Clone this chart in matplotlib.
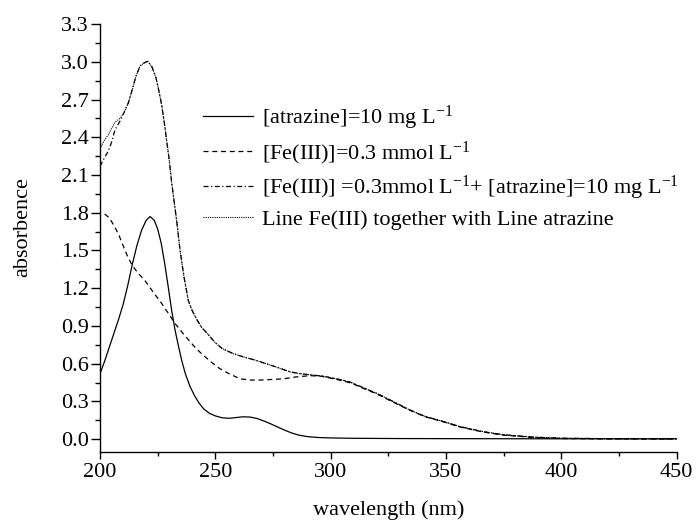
import numpy as np
import matplotlib
matplotlib.use("Agg")
import matplotlib.pyplot as plt
from matplotlib.ticker import MultipleLocator, FormatStrFormatter

plt.rcParams['font.family'] = ['Liberation Serif', 'DejaVu Serif']
plt.rcParams['mathtext.fontset'] = 'custom'
plt.rcParams['mathtext.rm'] = 'Liberation Serif'
plt.rcParams['mathtext.it'] = 'Liberation Serif:italic'

# [atrazine]=10 mg/L
atr_wl = [200, 202, 204, 206, 208, 210, 212, 214, 216, 218, 220, 221.7, 223.5, 225, 226.5,
          228, 229.5, 231, 232.5, 234, 235.5, 237, 239, 241, 243, 245, 247.5, 250, 253, 256,
          259, 262, 265, 268, 271, 274, 277, 280, 283, 286, 290, 295, 300, 310, 330, 360,
          400, 450]
atr_abs = [0.52, 0.62, 0.73, 0.84, 0.95, 1.07, 1.22, 1.39, 1.54, 1.66, 1.74, 1.77, 1.74,
           1.67, 1.56, 1.40, 1.22, 1.03, 0.87, 0.74, 0.62, 0.52, 0.42, 0.345, 0.285, 0.24,
           0.205, 0.185, 0.17, 0.166, 0.172, 0.178, 0.176, 0.165, 0.145, 0.122, 0.097, 0.072,
           0.05, 0.033, 0.02, 0.013, 0.01, 0.007, 0.005, 0.004, 0.003, 0.003]

# [Fe(III)]=0.3 mmol/L
fe_wl = [202, 204, 206, 208, 210, 212, 214, 216.5, 219.5, 223, 226.7, 230, 232.5, 236,
         241.2, 244, 248.4, 252, 256, 260.7, 265, 269.4, 275, 279.5, 285, 291, 296, 300,
         305, 309, 314, 320, 327, 334, 341, 349, 356, 366, 375, 388, 400, 420, 450]
fe_abs = [1.79, 1.76, 1.70, 1.63, 1.54, 1.45, 1.38, 1.32, 1.26, 1.17, 1.08, 0.99, 0.92, 0.84,
          0.73, 0.68, 0.61, 0.56, 0.52, 0.48, 0.47, 0.47, 0.475, 0.48, 0.495, 0.505, 0.5,
          0.485, 0.465, 0.445, 0.405, 0.36, 0.295, 0.232, 0.178, 0.137, 0.097, 0.057, 0.032,
          0.013, 0.005, 0.002, 0.001]

# mixture
mix_wl = [200, 202, 203.6, 205, 206.5, 208.7, 210.5, 212.3, 214, 215.5, 217.3, 219, 220.7,
          222.5, 224.3, 225.5, 226.7, 228, 228.9, 230, 231, 232.2, 233.2, 234.7, 236.5, 238.3,
          240, 242, 244, 247, 249.8, 253, 257.8, 262, 267, 272, 277, 282.4, 287, 292, 297,
          301, 305, 309, 314, 320, 327, 334, 341, 349, 356, 366, 375, 388, 400, 420, 450]
mix_abs = [2.17, 2.24, 2.29, 2.36, 2.46, 2.53, 2.60, 2.675, 2.78, 2.88, 2.966, 2.99, 3.005,
           2.96, 2.87, 2.77, 2.66, 2.50, 2.37, 2.22, 2.05, 1.88, 1.74, 1.50, 1.28, 1.10,
           1.02, 0.95, 0.89, 0.83, 0.77, 0.72, 0.68, 0.655, 0.63, 0.60, 0.57, 0.535, 0.52,
           0.51, 0.50, 0.485, 0.47, 0.45, 0.41, 0.364, 0.30, 0.235, 0.18, 0.14, 0.10, 0.06,
           0.035, 0.016, 0.008, 0.004, 0.003]

# Fe(III) line + atrazine line
sum_wl = [200, 202, 203.6, 205, 206.5, 208.7, 210.5, 212.3, 214, 215.5, 217.3, 219, 220.7,
          222.5, 224.3, 225.5, 226.7, 228, 228.9, 230, 231, 232.2, 233.2, 234.7, 236.5, 238.3,
          240, 242, 244, 247, 249.8, 253, 257.8, 262, 267, 272, 277, 282.4, 287, 292, 297,
          301, 305, 309, 314, 320, 327, 334, 341, 349, 356, 366, 375, 388, 400, 420, 450]
sum_abs = [2.31, 2.38, 2.42, 2.47, 2.52, 2.55, 2.60, 2.675, 2.78, 2.88, 2.966, 2.99, 3.005,
           2.96, 2.87, 2.77, 2.66, 2.50, 2.37, 2.22, 2.05, 1.88, 1.74, 1.50, 1.28, 1.10,
           1.02, 0.95, 0.89, 0.83, 0.77, 0.72, 0.68, 0.655, 0.63, 0.60, 0.57, 0.535, 0.52,
           0.51, 0.50, 0.485, 0.47, 0.45, 0.41, 0.364, 0.30, 0.235, 0.18, 0.14, 0.10, 0.06,
           0.035, 0.016, 0.008, 0.004, 0.003]

labels = ["[atrazine]=10 mg L$^{-1}$",
          "[Fe(III)]=0.3 mmol L$^{-1}$",
          "[Fe(III)] =0.3mmol L$^{-1}$+ [atrazine]=10 mg L$^{-1}$",
          "Line Fe(III) together with Line atrazine"]


def main():
  fig = plt.figure(figsize=(6.97, 5.29), dpi=100)
  ax = fig.add_axes([0.1435, 0.146, 0.8274, 0.8085])

  ax.plot(atr_wl, atr_abs, color='black', lw=0.9, ls='-', label=labels[0])
  ax.plot(fe_wl, fe_abs, color='black', lw=0.9, ls=(0, (4, 3)), label=labels[1])
  ax.plot(mix_wl, mix_abs, color='black', lw=0.9, ls=(0, (4, 2, 1, 2)), label=labels[2])
  ax.plot(sum_wl, sum_abs, color='black', lw=0.8, ls=(0, (1, 1)), label=labels[3])

  ax.set_xlim(200, 450)
  ax.set_ylim(-0.1, 3.3)
  ax.xaxis.set_major_locator(MultipleLocator(50))
  ax.xaxis.set_minor_locator(MultipleLocator(25))
  ax.yaxis.set_major_locator(MultipleLocator(0.3))
  ax.yaxis.set_minor_locator(MultipleLocator(0.15))
  ax.yaxis.set_major_formatter(FormatStrFormatter('%.1f'))

  for side in ['top', 'right']:
    ax.spines[side].set_visible(False)
  for side in ['left', 'bottom']:
    ax.spines[side].set_linewidth(1.0)

  ax.tick_params(axis='x', which='major', direction='out', length=5, width=1.0,
                 labelsize=16, pad=3)
  ax.tick_params(axis='x', which='minor', direction='out', length=3, width=1.0)
  ax.tick_params(axis='y', which='major', direction='out', length=6.5, width=1.0,
                 labelsize=16, pad=1.5)
  ax.tick_params(axis='y', which='minor', direction='out', length=3.5, width=1.0)

  ax.set_xlabel("wavelength (nm)", fontsize=16)
  ax.set_ylabel("absorbence", fontsize=16)
  ax.xaxis.set_label_coords(0.5, -0.113)
  ax.yaxis.set_label_coords(-0.118, 0.525)

  ax.legend(loc='upper left', bbox_to_anchor=(203 / 697, 1 - 104 / 529),
            bbox_transform=fig.transFigure, frameon=False, fontsize=16,
            handlelength=2.25, handletextpad=0.4, labelspacing=0.32,
            borderpad=0, borderaxespad=0)

  fig.savefig("out.png", dpi=100)


if __name__ == "__main__":
  main()
